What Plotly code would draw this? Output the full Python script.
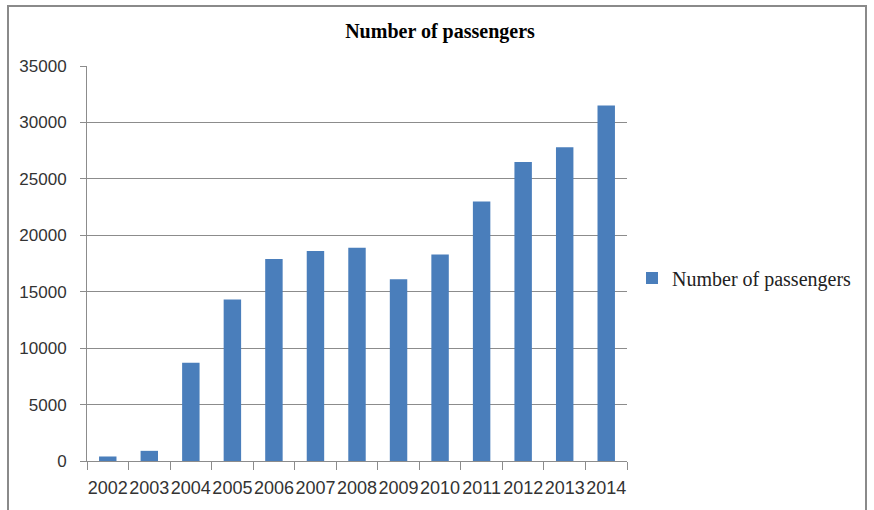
import plotly.graph_objects as go

years = ["2002", "2003", "2004", "2005", "2006", "2007", "2008",
         "2009", "2010", "2011", "2012", "2013", "2014"]
passengers = [400, 900, 8700, 14300, 17900, 18600, 18900,
              16100, 18300, 23000, 26500, 27800, 31500]
y_ticks = [0, 5000, 10000, 15000, 20000, 25000, 30000, 35000]
y_tick_labels = [str(v) for v in y_ticks]

fig = go.Figure()
fig.add_trace(go.Bar(
    x=years, y=passengers, name="Number of passengers",
    marker=dict(color="#4A7EBB", line=dict(width=0)),
))

L, R, T, B = 87, 247, 66, 49
W, H = 874, 510
pw, ph = W - L - R, H - T - B

def px_x(p):
    return (p - L) / pw

def px_y(p):
    return (H - B - p) / ph

fig.add_shape(type="rect", xref="paper", yref="paper",
              x0=px_x(8), x1=px_x(866), y0=px_y(560), y1=px_y(6),
              line=dict(color="#8a8a8a", width=2), fillcolor="rgba(0,0,0,0)",
              layer="below")

fig.update_layout(
    width=W, height=H,
    margin=dict(l=L, r=R, t=T, b=B, autoexpand=False),
    paper_bgcolor="white", plot_bgcolor="white",
    bargap=0.58,
    showlegend=True,
    title=dict(text="<b>Number of passengers</b>", x=440 / W, xref="container",
               xanchor="center", y=1 - 31 / H, yanchor="middle",
               font=dict(family="Liberation Serif", size=20, color="black")),
    legend=dict(x=px_x(632), y=px_y(278), xanchor="left", yanchor="middle",
                font=dict(family="Liberation Serif", size=20, color="#222"),
                bgcolor="rgba(0,0,0,0)", itemwidth=30),
    xaxis=dict(
        type="category", showline=True, linecolor="#8c8c8c", linewidth=1,
        ticks="outside", tickson="boundaries", ticklen=8, tickcolor="#8c8c8c",
        tickangle=0, automargin=False, ticklabelstandoff=10,
        tickfont=dict(family="Liberation Sans", size=18, color="#333"),
        showgrid=False, fixedrange=True,
    ),
    yaxis=dict(
        range=[0, 35000], tickvals=y_ticks, ticktext=y_tick_labels,
        showline=True, automargin=False,
        linecolor="#8c8c8c", linewidth=1, ticks="outside", ticklen=6,
        tickcolor="#8c8c8c",
        tickfont=dict(family="Liberation Sans", size=17, color="#333"),
        showgrid=True, gridcolor="#8c8c8c", gridwidth=1, zeroline=False,
        ticklabelstandoff=10,
    ),
)

fig.write_html("out.html")
